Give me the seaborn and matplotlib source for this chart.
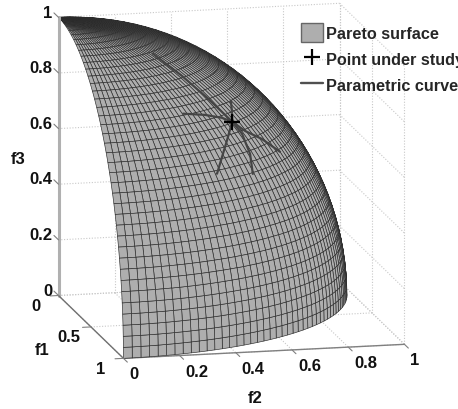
import numpy as np
import matplotlib
matplotlib.use('Agg')
import matplotlib.pyplot as plt
from matplotlib.lines import Line2D
from matplotlib.patches import Patch
from mpl_toolkits.mplot3d import proj3d
import seaborn as sns

# mesh angles of the surface (degrees)
lat_deg = [0, 2.25, 4.5, 6.75, 9, 11.25, 13.5, 15.75, 18, 20.25, 22.5, 24.75, 27, 29.25,
           31.5, 33.75, 36, 38.25, 40.5, 42.75, 45, 47.25, 49.5, 51.75, 54, 56.25, 58.5,
           60.75, 63, 65.25, 67.5, 69.75, 72, 74.25, 76.5, 78.75, 81, 83.25, 85.5, 87.75, 90]
lon_deg = [0, 1.8, 3.6, 5.4, 7.2, 9, 10.8, 12.6, 14.4, 16.2, 18, 19.8, 21.6, 23.4, 25.2,
           27, 28.8, 30.6, 32.4, 34.2, 36, 37.8, 39.6, 41.4, 43.2, 45, 46.8, 48.6, 50.4,
           52.2, 54, 55.8, 57.6, 59.4, 61.2, 63, 64.8, 66.6, 68.4, 70.2, 72, 73.8, 75.6,
           77.4, 79.2, 81, 82.8, 84.6, 86.4, 88.2, 90]

# point under study
point = [0.49, 0.505, 0.71]

# parametric curves through the point
curve1_f1 = [0.285, 0.376, 0.445, 0.49, 0.492, 0.462, 0.435]
curve1_f2 = [0.27, 0.352, 0.43, 0.505, 0.55, 0.617, 0.688]
curve1_f3 = [0.92, 0.857, 0.786, 0.71, 0.675, 0.636, 0.58]

curve2_f1 = [0.563, 0.53, 0.503, 0.49, 0.515, 0.57, 0.63]
curve2_f2 = [0.313, 0.398, 0.465, 0.505, 0.534, 0.55, 0.546]
curve2_f3 = [0.765, 0.749, 0.729, 0.71, 0.671, 0.61, 0.552]

curve3_f1 = [0.383, 0.437, 0.49, 0.585, 0.71]
curve3_f2 = [0.525, 0.516, 0.505, 0.464, 0.4]
curve3_f3 = [0.76, 0.736, 0.71, 0.665, 0.578]

f1_ticks = [0, 0.5, 1]
f2_ticks = [0, 0.2, 0.4, 0.6, 0.8, 1]
f3_ticks = [0, 0.2, 0.4, 0.6, 0.8, 1]
f1_labels = ['0', '0.5', '1']
f2_labels = ['0', '0.2', '0.4', '0.6', '0.8', '1']
f3_labels = ['0', '0.2', '0.4', '0.6', '0.8', '1']

sns.set_theme(style='white')
plt.rcParams['font.family'] = ['Liberation Sans', 'DejaVu Sans']
plt.rcParams['font.weight'] = 'bold'

W, H = 458, 410
fig = plt.figure(figsize=(W / 100, H / 100), dpi=100)
ax = fig.add_axes([0, 0, 1, W / H], projection='3d', computed_zorder=False)
ax.set_proj_type('ortho')
ax.view_init(elev=12.7, azim=-12.8)
ax.set_box_aspect((293, 288, 285))
ax.set_xlim(0, 1)
ax.set_ylim(0, 1)
ax.set_zlim(0, 1)
ax.set_axis_off()


def project(x, y, z):
    xs, ys, _ = proj3d.proj_transform(x, y, z, ax.get_proj())
    return ax.transData.transform((xs, ys))


# scale and shift the axes so the box lands where it does in the reference
side = float(W)
for i in range(3):
    fig.canvas.draw()
    p0 = project(0, 0, 0)
    p1 = project(0, 1, 0)
    k = 281 / (p1[0] - p0[0])
    bb = ax.bbox
    cx, cy = (bb.x0 + bb.x1) / 2, (bb.y0 + bb.y1) / 2
    nx = 58.5 - (p0[0] - cx) * k
    ny = (H - 296.5) - (p0[1] - cy) * k
    side = side * k
    ax.set_position([(nx - side / 2) / W, (ny - side / 2) / H, side / W, side / H])

# dotted grid on the back walls and floor
grid = dict(color='#c8c8c8', lw=0.8, ls=(0, (1, 1.5)), zorder=1)
for z in f3_ticks:
    ax.plot([0, 0], [0, 1], [z, z], **grid)
    ax.plot([0, 1], [1, 1], [z, z], **grid)
for y in f2_ticks:
    ax.plot([0, 0], [y, y], [0, 1], **grid)
    ax.plot([0, 1], [y, y], [0, 0], **grid)
for x in f1_ticks:
    ax.plot([x, x], [1, 1], [0, 1], **grid)
    ax.plot([x, x], [0, 1], [0, 0], **grid)

# surface
lat = np.radians(lat_deg)
lon = np.radians(lon_deg)
X = np.outer(np.cos(lat), np.cos(lon))
Y = np.outer(np.cos(lat), np.sin(lon))
Z = np.outer(np.sin(lat), np.ones(len(lon)))
ax.plot_surface(X, Y, Z, rstride=1, cstride=1, color='#aeaeae', shade=False,
                edgecolor='#2a2a2a', linewidth=0.45, zorder=2)

# axis lines and ticks
ax.plot([0, 0], [0, 0], [0, 1], color='#b0b0b0', lw=2.2, zorder=3)
ax.plot([0, 1], [0, 0], [0, 0], color='#707070', lw=1, zorder=3)
ax.plot([1, 1], [0, 1], [0, 0], color='#808080', lw=1, zorder=1.5)
tick = dict(color='#808080', lw=0.8, zorder=3)
for z in f3_ticks:
    ax.plot([0, -0.07], [0, 0], [z, z], **tick)
for x in f1_ticks:
    ax.plot([x, x], [0, -0.03], [0, 0], **tick)
for y in f2_ticks:
    ax.plot([1, 1.06], [y, y], [0, 0], **tick)

# curves and point
curve = dict(color='#454545', lw=1.6, zorder=4)
ax.plot(curve1_f1, curve1_f2, curve1_f3, **curve)
ax.plot(curve2_f1, curve2_f2, curve2_f3, **curve)
ax.plot(curve3_f1, curve3_f2, curve3_f3, **curve)
ax.plot([point[0]], [point[1]], [point[2]], marker='+', ms=12, mew=1.6, color='black',
        ls='none', zorder=5)

# tick labels
fs = 12
for z, s in zip(f3_ticks, f3_labels):
    ax.text(0, -0.023, z + 0.02, s, ha='right', va='center', fontsize=fs, weight='bold', color='#111111')
for x, s in zip(f1_ticks, f1_labels):
    ax.text(x, -0.08, -0.032, s, ha='center', va='center', fontsize=fs, weight='bold', color='#111111')
for y, s in zip(f2_ticks, f2_labels):
    ax.text(1, y + 0.021, -0.057, s, ha='left', va='center', fontsize=fs, weight='bold', color='#111111')

# axis labels
ax.text(0, -0.145, 0.5, 'f3', rotation=90, ha='center', va='center', fontsize=fs, weight='bold', color='#111111')
ax.text(0.5, -0.175, -0.074, 'f1', ha='center', va='center', fontsize=fs, weight='bold', color='#111111')
ax.text(1, 0.47, -0.165, 'f2', ha='center', va='center', fontsize=fs, weight='bold', color='#111111')

handles = [
    Patch(facecolor='#aeaeae', edgecolor='#666666', lw=1),
    Line2D([], [], marker='+', ms=12, mew=1.6, color='black', ls='none'),
    Line2D([], [], color='#505050', lw=1.7),
]
fig.legend(handles, ['Pareto surface', 'Point under study', 'Parametric curve'],
           loc='upper left', bbox_to_anchor=(301 / W, 1 - 24 / H), frameon=False,
           borderpad=0, borderaxespad=0, handlelength=1.35,
           handleheight=1.45, handletextpad=0.16, labelspacing=0.42,
           prop={'weight': 'bold', 'size': 11.7})

fig.savefig('out.png', dpi=100)
